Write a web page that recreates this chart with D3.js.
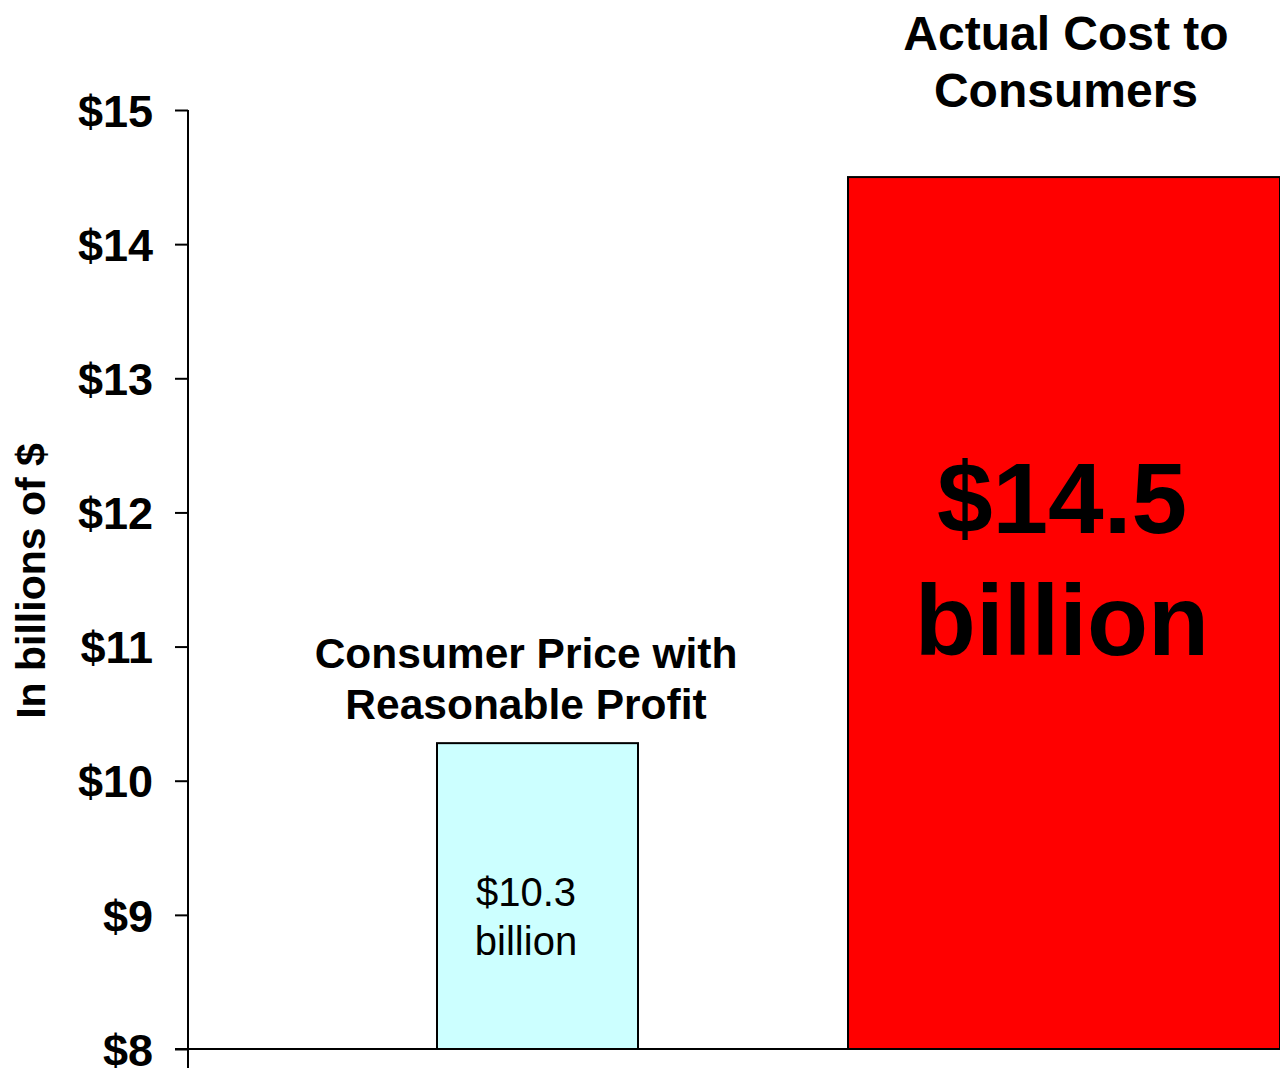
<!DOCTYPE html>
<html><head><meta charset="utf-8">
<script src="https://cdn.jsdelivr.net/npm/d3@7"></script>
<style>html,body{margin:0;padding:0;background:#fff;overflow:hidden}svg{display:block;font-family:"Liberation Sans",Arial,sans-serif}</style>
</head><body>
<svg id="c" width="1280" height="1068"></svg>
<script>
const categories = ["Consumer Price with Reasonable Profit", "Actual Cost to Consumers"];
const categoryLines = [["Consumer Price with", "Reasonable Profit"], ["Actual Cost to", "Consumers"]];
const values = [10.28, 14.5];
const valueLabels = [["$10.3", "billion"], ["$14.5", "billion"]];
const yTicks = [8, 9, 10, 11, 12, 13, 14, 15];
const yTickLabels = ["$8", "$9", "$10", "$11", "$12", "$13", "$14", "$15"];
const colors = ["#ccffff", "#ff0000"];

const svg = d3.select("#c");
const y = d3.scaleLinear().domain([8, 15]).range([1049, 110]);
const x = d3.scalePoint().domain(categories).range([537.5, 1064]);
const barW = [201, 432];

// bars
svg.selectAll("rect.bar").data(values).join("rect")
  .attr("class", "bar")
  .attr("x", (d, i) => x(categories[i]) - barW[i] / 2)
  .attr("width", (d, i) => barW[i])
  .attr("y", d => y(d))
  .attr("height", d => y(8) - y(d))
  .attr("fill", (d, i) => colors[i])
  .attr("stroke", "#000").attr("stroke-width", 2);

// y axis
const ax = svg.append("g").attr("transform", "translate(188,0)")
  .call(d3.axisLeft(y).tickValues(yTicks).tickFormat((d, i) => yTickLabels[i]).tickSize(13).tickPadding(22));
ax.select(".domain").remove();
ax.selectAll(".tick line").attr("stroke", "#000").attr("stroke-width", 2);
ax.selectAll(".tick text").attr("font-size", 45).attr("font-weight", "bold").attr("fill", "#000")
  .attr("font-family", "'Liberation Sans',Arial,sans-serif").attr("dy", "0.36em");
svg.append("line").attr("x1", 188).attr("x2", 188).attr("y1", y(15)).attr("y2", 1068)
  .attr("stroke", "#000").attr("stroke-width", 2);
svg.append("line").attr("x1", 175).attr("x2", 1280).attr("y1", y(8)).attr("y2", y(8))
  .attr("stroke", "#000").attr("stroke-width", 2);

// y title
svg.append("text").attr("transform", "translate(45,581) rotate(-90)")
  .attr("text-anchor", "middle").attr("font-size", 41).attr("font-weight", "bold").text("In billions of $");

// category labels
const catPos = [{cx: 526, b: [668, 719], fs: 42.5}, {cx: 1066, b: [50, 107], fs: 48}];
categoryLines.forEach((lines, i) => {
  lines.forEach((t, j) => {
    svg.append("text").attr("x", catPos[i].cx).attr("y", catPos[i].b[j])
      .attr("text-anchor", "middle").attr("font-weight", "bold").attr("font-size", catPos[i].fs).text(t);
  });
});

// value labels
const valPos = [{cx: 526, b: [906, 955], fs: 40, fw: "normal"}, {cx: 1062, b: [533, 655], fs: 100, fw: "bold"}];
valueLabels.forEach((lines, i) => {
  lines.forEach((t, j) => {
    svg.append("text").attr("x", valPos[i].cx).attr("y", valPos[i].b[j])
      .attr("text-anchor", "middle").attr("font-weight", valPos[i].fw).attr("font-size", valPos[i].fs).text(t);
  });
});
</script>
</body></html>
